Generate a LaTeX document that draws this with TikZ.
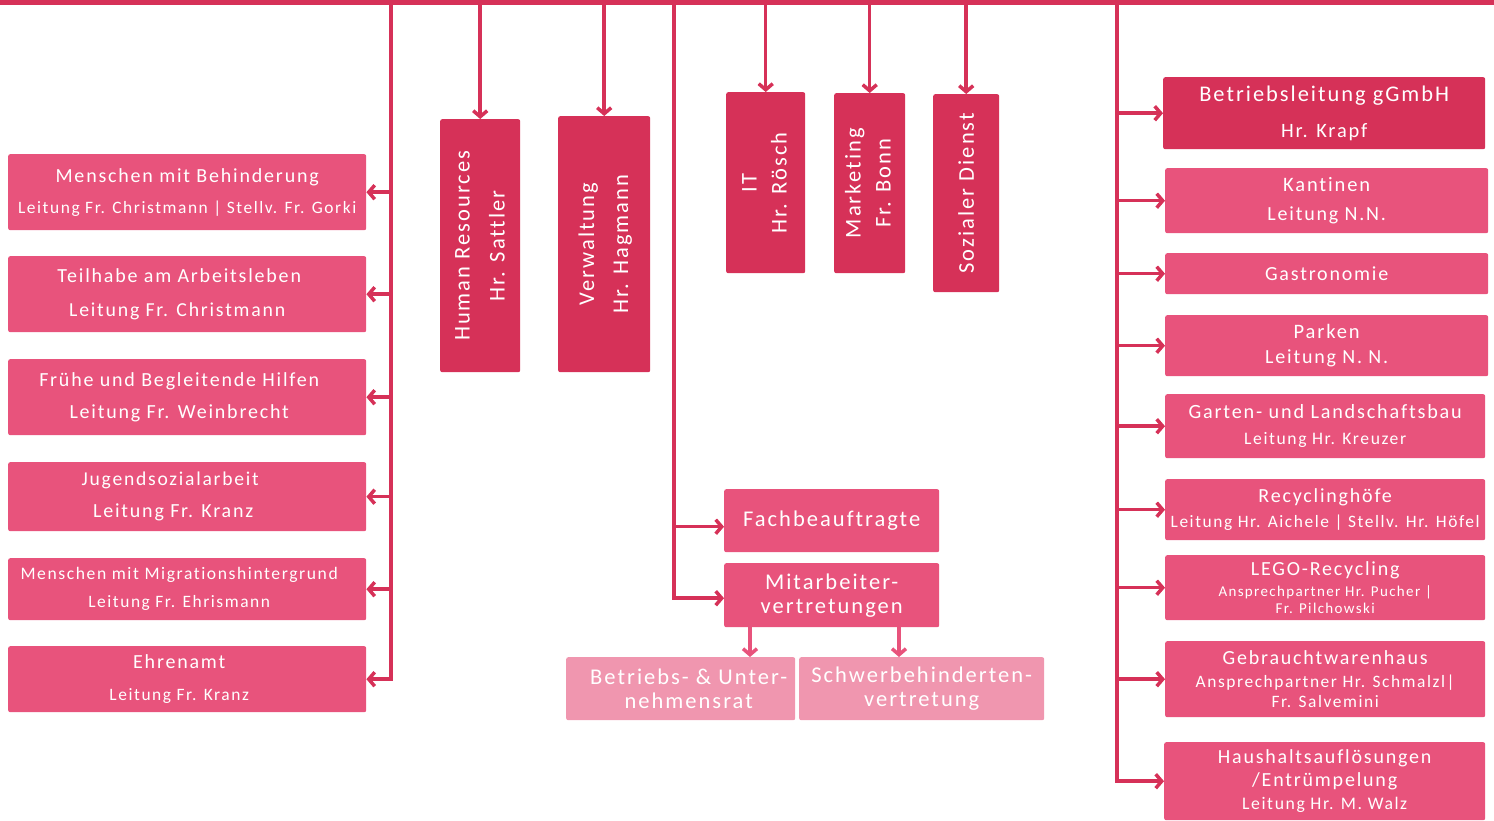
\documentclass[tikz,border=0pt]{standalone}
\usepackage{fontspec}
\setmainfont{Carlito}[LetterSpace=9,Ligatures=NoCommon]
\usepackage{graphicx}
\usetikzlibrary{arrows.meta}
\definecolor{cDark}{HTML}{D63158}
\definecolor{cMid}{HTML}{E8537C}
\definecolor{cLight}{HTML}{F096AF}
\newcommand\fz[2]{{\fontsize{#1}{#1}\selectfont #2}}
\newcommand\sh[2]{#2\hspace*{#1pt}}
\newcommand\vtext[3]{\rotatebox{90}{\fontsize{22.5}{#1}\selectfont\begin{tabular}{@{}c@{}}#2\\#3\end{tabular}}}
\tikzset{
  box/.style={fill=cMid, rounded corners=2pt, inner sep=0pt, text=white, align=center, anchor=north west},
  dbox/.style={box, fill=cDark},
  lbox/.style={box, fill=cLight},
  sz/.style 2 args={minimum width=#1, minimum height=#2},
  trunk/.style={draw=cDark, line width=4.5pt, line cap=rect},
  arr/.style={draw=cDark, line width=3.5pt, -{Straight Barb[length=6pt,width=14pt]}},
  marr/.style={arr, draw=cMid},
}
\begin{document}
\begin{tikzpicture}[x=1pt,y=-1pt]
\useasboundingbox (0,0) rectangle (1494,820);
\clip (0,0) rectangle (1494,820);
% coordinates
\coordinate (bar0) at (0,2.5);
\coordinate (bar1) at (1494,2.5);
\coordinate (tl) at (391,0);
\coordinate (tm) at (674,0);
\coordinate (tr) at (1117,0);

% left boxes
\node[box, sz={358}{76}, font=\fontsize{17.4}{31}\selectfont] (b1) at (8,154) {\fz{20}{Menschen mit Behinderung}\\Leitung Fr. Christmann | Stellv. Fr. Gorki};
\node[box, sz={358}{76}, font=\fontsize{19.8}{34}\selectfont] (b2) at (8,256) {\sh{16}{\fz{20}{Teilhabe am Arbeitsleben}}\\\sh{20}{Leitung Fr. Christmann}};
\node[box, sz={358}{76}, font=\fontsize{20}{32}\selectfont] (b3) at (8,359) {\sh{16}{\fz{20}{Frühe und Begleitende Hilfen}}\\\sh{16}{Leitung Fr. Weinbrecht}};
\node[box, sz={358}{69}, font=\fontsize{20}{32}\selectfont] (b4) at (8,462) {\sh{34}{\fz{19.6}{Jugendsozialarbeit}}\\\sh{28}{Leitung Fr. Kranz}};
\node[box, sz={358}{62}, font=\fontsize{17.4}{28}\selectfont] (b5) at (8,558) {\sh{16}{\fz{17.6}{Menschen mit Migrationshintergrund}}\\\sh{16}{Leitung Fr. Ehrismann}};
\node[box, sz={358}{66}, font=\fontsize{17.4}{32}\selectfont] (b6) at (8,646) {\sh{16}{\fz{20}{Ehrenamt}}\\\sh{16}{Leitung Fr. Kranz}};

% vertical boxes
\node[dbox, sz={80}{253}] (hr) at (440,119) {\vtext{35}{Human Resources}{Hr. Sattler}};
\node[dbox, sz={92}{256}] (vw) at (558,116) {\vtext{34}{Verwaltung}{Hr. Hagmann}};
\node[dbox, sz={79}{181}] (it) at (726,92) {\vtext{30}{IT}{Hr. Rösch}};
\node[dbox, sz={71}{180}] (mk) at (834,93) {\vtext{30}{Marketing}{Fr. Bonn}};
\node[dbox, sz={66}{198}] (sd) at (933,94) {\rotatebox{90}{\fz{22.5}{Sozialer Dienst}}};

% middle
\node[box, sz={215}{63}] (fb) at (724,489) {\fz{22.5}{Fachbeauftragte}};
\node[box, sz={215}{64}, font=\fontsize{22.5}{24}\selectfont] (mv) at (724,563) {Mitarbeiter-\\vertretungen};
\node[lbox, sz={229}{63}, font=\fontsize{22.5}{24}\selectfont] (br) at (566,657) {\hspace*{16pt}Betriebs- \& Unter-\\\hspace*{16pt}nehmensrat};
\node[lbox, sz={245}{63}, font=\fontsize{22.5}{24}\selectfont] (sv) at (799,657) {Schwerbehinderten-\\vertretung};

% right boxes
\node[dbox, sz={322}{72}, font=\fontsize{20.4}{36}\selectfont] (bl) at (1163,77) {\fz{22.4}{Betriebsleitung gGmbH}\\Hr. Krapf};
\node[box, sz={323}{65}, font=\fontsize{20}{29}\selectfont] (ka) at (1165,168) {\fz{20.5}{Kantinen}\\Leitung N.N.};
\node[box, sz={323}{41}] (ga) at (1165,253) {\fz{20}{Gastronomie}};
\node[box, sz={323}{61}, font=\fontsize{20}{25}\selectfont] (pa) at (1165,315) {\fz{20.5}{Parken}\\Leitung N. N.};
\node[box, sz={320}{64}, font=\fontsize{17.6}{26}\selectfont] (gl) at (1165,394) {\fz{20.2}{Garten- und Landschaftsbau}\\Leitung Hr. Kreuzer};
\node[box, sz={320}{61}, font=\fontsize{17.4}{25}\selectfont] (rh) at (1165,479) {\fz{20}{Recyclinghöfe}\\Leitung Hr. Aichele | Stellv. Hr. Höfel};
\node[box, sz={320}{65}, font=\fontsize{15}{17}\selectfont] (lg) at (1165,555) {\fz{20}{LEGO-Recycling}\\[4pt]Ansprechpartner Hr. Pucher |\\Fr. Pilchowski};
\node[box, sz={320}{76}, font=\fontsize{17.4}{20}\selectfont] (gw) at (1165,641) {\fz{20}{Gebrauchtwarenhaus}\\[3pt]Ansprechpartner Hr. Schmalzl|\\Fr. Salvemini};
\node[box, sz={321}{78}, font=\fontsize{17.7}{23}\selectfont] (hh) at (1164,742) {\fz{20}{Haushaltsauflösungen}\\\fz{20}{/Entrümpelung}\\Leitung Hr. M. Walz};

% top bar and trunks
\draw[draw=cDark, line width=5pt] (bar0) -- (bar1);
\draw[trunk] (tl) -- (tl |- b6.east);
\draw[trunk] (tm) -- ([yshift=-3pt]tm |- mv.west);
\draw[trunk] (tr) -- (tr |- hh.west);

% left arrows
\foreach \n in {b1,b2,b3,b4,b5,b6} \draw[arr] (tl |- \n.east) -- (\n.east);
% down arrows
\foreach \n in {hr,vw,it,mk,sd} \draw[arr] (\n.north |- tl) -- (\n.north);
% middle arrows
\draw[arr] ([yshift=-6pt]tm |- fb.west) -- ([yshift=-6pt]fb.west);
\draw[arr] ([yshift=-3pt]tm |- mv.west) -- ([yshift=-3pt]mv.west);
\draw[marr] ([xshift=26pt]mv.south west) -- ([xshift=26pt]mv.south west |- br.north);
\draw[marr] ([xshift=175pt]mv.south west) -- ([xshift=175pt]mv.south west |- sv.north);
% right arrows
\foreach \n in {bl,ka,ga,pa,gl,rh,lg,gw,hh} \draw[arr] (tr |- \n.west) -- (\n.west);
\end{tikzpicture}
\end{document}
